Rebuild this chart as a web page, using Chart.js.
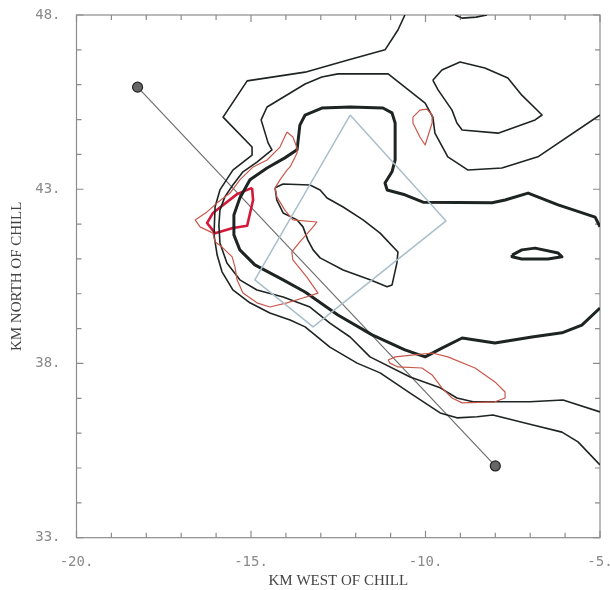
<!DOCTYPE html>
<html>
<head>
<meta charset="utf-8">
<script src="https://cdn.jsdelivr.net/npm/chart.js@4/dist/chart.umd.min.js"></script>
<style>
    body { margin: 0; background: #fff; }
</style>
</head>
<body>
<canvas id="my-chart" width="610" height="590"></canvas>
<script>
// axis labels (km)
const xLabelTicks = [-20, -15, -10, -5];
const yLabelTicks = [33, 38, 43, 48];

// contours: [km west, km north]
const thinOuter = [
    [-10.59, 48.0], [-10.79, 47.57], [-11.16, 47.0], [-12.22, 46.71], [-13.45, 46.36],
    [-15.11, 46.11], [-15.8, 45.07], [-14.97, 44.21], [-14.97, 43.98], [-15.52, 43.55],
    [-15.89, 42.98], [-16.03, 42.49], [-16.06, 41.69], [-15.97, 41.11], [-15.83, 40.63],
    [-15.52, 40.11], [-15.03, 39.74], [-14.46, 39.45], [-13.88, 39.25], [-13.45, 39.05],
    [-12.74, 38.47], [-11.96, 38.01], [-11.3, 37.73], [-10.44, 37.15], [-9.58, 36.58],
    [-9.1, 36.44], [-8.52, 36.47], [-8.07, 36.52], [-6.95, 36.24], [-6.09, 36.03],
    [-5.63, 35.75], [-5.0, 35.09],
];
const thinMiddle = [
    [-5.0, 45.13], [-6.78, 43.93], [-7.81, 43.61], [-8.78, 43.55], [-9.36, 43.93],
    [-9.73, 44.61], [-9.79, 45.07], [-10.01, 45.47], [-10.59, 45.93], [-11.07, 46.31],
    [-12.51, 46.31], [-12.97, 46.22], [-13.45, 46.02], [-14.54, 45.36], [-14.71, 44.99],
    [-14.51, 44.33], [-14.4, 44.13], [-14.83, 43.78], [-15.23, 43.5], [-15.52, 43.12],
    [-15.75, 42.78], [-15.89, 42.4], [-15.92, 41.97], [-15.89, 41.46], [-15.69, 40.88],
    [-15.32, 40.4], [-14.83, 40.11], [-14.08, 39.91], [-13.31, 39.62], [-12.74, 39.16],
    [-12.16, 38.76], [-11.59, 38.19], [-10.44, 37.61], [-9.58, 37.3], [-9.1, 37.01],
    [-8.64, 36.9], [-7.01, 36.9], [-6.06, 36.95], [-5.0, 36.61],
];
const thickMain = [
    [-5.0, 41.92], [-5.14, 42.2], [-6.2, 42.55], [-7.06, 42.89], [-7.72, 42.69],
    [-8.09, 42.61], [-10.07, 42.63], [-10.59, 42.84], [-11.1, 42.98], [-11.16, 43.18],
    [-10.96, 43.5], [-10.87, 43.84], [-10.87, 44.9], [-10.96, 45.19], [-11.22, 45.33],
    [-12.16, 45.36], [-12.97, 45.33], [-13.45, 45.13], [-13.6, 44.84], [-13.68, 44.13],
    [-14.03, 43.9], [-14.54, 43.61], [-15.03, 43.27], [-15.32, 42.75], [-15.49, 42.26],
    [-15.49, 41.69], [-15.32, 41.26], [-14.89, 40.83], [-14.08, 40.4], [-13.45, 40.05],
    [-12.51, 39.39], [-11.53, 38.82], [-10.59, 38.39], [-10.01, 38.19], [-9.53, 38.44],
    [-8.95, 38.73], [-8.01, 38.59], [-6.95, 38.76], [-6.09, 38.88], [-5.52, 39.1],
    [-5.0, 39.59],
];
const thickSmall = [
    [-7.52, 41.11], [-7.24, 41.26], [-6.86, 41.31], [-6.2, 41.17], [-6.09, 41.06],
    [-6.49, 41.0], [-7.24, 41.0], [-7.52, 41.06],
];
const innerLoop = [
    [-14.31, 43.04], [-14.08, 43.15], [-13.31, 43.12], [-13.02, 42.98], [-12.82, 42.75],
    [-12.36, 42.49], [-11.79, 42.12], [-11.3, 41.74], [-10.79, 41.2], [-10.82, 40.88],
    [-10.96, 40.25], [-11.1, 40.2], [-11.59, 40.4], [-12.36, 40.68], [-13.02, 41.03],
    [-13.22, 41.26], [-13.37, 41.54], [-13.51, 41.92], [-13.68, 42.12], [-14.08, 42.32],
    [-14.26, 42.69],
];
const northLoop = [
    [-9.79, 46.13], [-9.53, 46.42], [-9.01, 46.65], [-8.3, 46.48], [-7.64, 46.19],
    [-7.24, 45.7], [-6.66, 45.13], [-6.86, 44.99], [-7.92, 44.61], [-8.95, 44.7],
    [-9.1, 44.9], [-9.24, 45.27], [-9.64, 45.85],
];
const topEdge = [[-9.15, 48.0], [-8.95, 47.91], [-8.55, 47.94], [-8.24, 48.0]];

const redBig = [
    [-13.97, 44.64], [-13.8, 44.5], [-13.68, 44.18], [-13.68, 44.04], [-13.88, 43.64],
    [-13.97, 43.55], [-14.17, 43.27], [-14.31, 43.04], [-14.26, 42.78], [-14.03, 42.4],
    [-13.8, 42.12], [-13.11, 42.06], [-13.22, 41.92], [-13.6, 41.49], [-13.83, 41.2],
    [-13.8, 40.97], [-13.4, 40.48], [-13.08, 40.02], [-13.51, 39.88], [-13.97, 39.74],
    [-14.46, 39.62], [-14.83, 39.74], [-15.23, 40.02], [-15.4, 40.4], [-15.46, 40.77],
    [-15.54, 41.06], [-15.83, 41.34], [-16.03, 41.49], [-16.09, 41.74], [-16.46, 41.92],
    [-16.6, 42.12], [-16.26, 42.35], [-15.97, 42.61], [-15.6, 42.89], [-15.32, 43.27],
    [-14.94, 43.64], [-14.54, 43.84], [-14.17, 44.21],
];
const redCore = [
    [-14.97, 43.04], [-15.4, 42.86], [-16.09, 42.32], [-16.26, 42.03], [-16.03, 41.74],
    [-15.52, 41.89], [-15.11, 41.95], [-14.94, 42.69],
];
const redDrop = [
    [-10.36, 45.07], [-10.16, 45.27], [-9.96, 45.3], [-9.81, 45.13], [-9.81, 44.9],
    [-10.01, 44.27], [-10.16, 44.5], [-10.36, 44.9],
];
const redSouth = [
    [-11.07, 38.1], [-10.87, 38.19], [-10.39, 38.24], [-9.81, 38.3], [-9.36, 38.19],
    [-8.58, 37.87], [-8.01, 37.47], [-7.72, 37.18], [-7.72, 37.01], [-8.01, 36.9],
    [-8.95, 36.87], [-9.24, 37.01], [-9.53, 37.3], [-9.81, 37.67], [-10.1, 37.87],
    [-10.79, 37.9], [-11.02, 38.01],
];

const scanBox = [[-12.16, 45.13], [-9.41, 42.09], [-13.22, 39.05], [-14.89, 40.4]];
const crossSection = [[-18.25, 45.93], [-8.0, 35.06]];

const toPoints = (pts, closed) =>
    (closed ? pts.concat([pts[0]]) : pts).map(([x, y]) => ({ x, y }));

const contour = (pts, color, width, closed) => ({
    data: toPoints(pts, closed),
    showLine: true,
    borderColor: color,
    borderWidth: width,
    borderJoinStyle: "round",
    pointRadius: 0,
    tension: 0,
    fill: false,
});

// frame plus inward tick marks on all four sides
const frameTicks = {
    id: "frameTicks",
    beforeDatasetsDraw(chart) {
        const { ctx, chartArea: a, scales } = chart;
        ctx.save();
        ctx.strokeStyle = "#8c8c8c";
        ctx.lineWidth = 1.2;
        ctx.strokeRect(a.left, a.top, a.right - a.left, a.bottom - a.top);
        ctx.beginPath();
        scales.x.ticks.forEach((t) => {
            const p = scales.x.getPixelForValue(t.value);
            const len = t.value % 5 === 0 ? 7 : 5;
            ctx.moveTo(p, a.bottom);
            ctx.lineTo(p, a.bottom - len);
            ctx.moveTo(p, a.top);
            ctx.lineTo(p, a.top + len);
        });
        scales.y.ticks.forEach((t) => {
            const p = scales.y.getPixelForValue(t.value);
            const len = (t.value - 33) % 5 === 0 ? 7 : 5;
            ctx.moveTo(a.left, p);
            ctx.lineTo(a.left + len, p);
            ctx.moveTo(a.right, p);
            ctx.lineTo(a.right - len, p);
        });
        ctx.stroke();
        ctx.restore();
    },
};

const tickFont = { family: "DejaVu Sans Mono", size: 14 };
const titleFont = { family: "Liberation Serif", size: 15 };

window.onload = function () {
    const ctx = document.getElementById("my-chart").getContext("2d");
    const black = "#1e2421";
    const chart = new Chart(ctx, {
        type: "scatter",
        data: {
            datasets: [
                contour(scanBox, "#a9bfcb", 1.5, true),
                contour(redBig, "#c9584c", 1.2, true),
                contour(redDrop, "#c9584c", 1.2, true),
                contour(redSouth, "#c9584c", 1.2, true),
                contour(thinOuter, black, 1.6, false),
                contour(thinMiddle, black, 1.6, false),
                contour(innerLoop, black, 1.6, true),
                contour(northLoop, black, 1.6, true),
                contour(topEdge, black, 1.6, false),
                contour(thickMain, black, 3, false),
                contour(thickSmall, black, 3, true),
                contour(redCore, "#d2193a", 2.6, true),
                {
                    data: toPoints(crossSection, false),
                    showLine: true,
                    borderColor: "#6e6e6e",
                    borderWidth: 1.2,
                    pointRadius: 5,
                    pointBackgroundColor: "#666",
                    pointBorderColor: "#222",
                    pointBorderWidth: 1.2,
                },
            ],
        },
        options: {
            responsive: false,
            animation: false,
            layout: { padding: { top: 15, right: 10, left: 0, bottom: 0 } },
            plugins: { legend: { display: false }, tooltip: { enabled: false } },
            scales: {
                x: {
                    type: "linear",
                    min: -20,
                    max: -5,
                    grid: { display: false, drawTicks: false },
                    border: { display: false },
                    ticks: {
                        stepSize: 1,
                        padding: 16,
                        color: "#8a8a8a",
                        font: tickFont,
                        maxRotation: 0,
                        autoSkip: false,
                        callback: (v) => (xLabelTicks.includes(v) ? v + "." : ""),
                    },
                    title: {
                        display: true,
                        text: "KM WEST OF CHILL",
                        color: "#444",
                        font: titleFont,
                        padding: { top: 0, bottom: 0 },
                    },
                    afterFit: (scale) => {
                        scale.height = 52.3;
                        scale.paddingLeft = scale.paddingRight = 0;
                    },
                },
                y: {
                    type: "linear",
                    min: 33,
                    max: 48,
                    grid: { display: false, drawTicks: false },
                    border: { display: false },
                    ticks: {
                        stepSize: 1,
                        padding: 16,
                        color: "#8a8a8a",
                        font: tickFont,
                        autoSkip: false,
                        callback: (v) => (yLabelTicks.includes(v) ? v + "." : ""),
                    },
                    title: {
                        display: true,
                        text: "KM NORTH OF CHILL",
                        color: "#444",
                        font: titleFont,
                        padding: { top: 8, bottom: 0 },
                    },
                    afterFit: (scale) => {
                        scale.width = 76.5;
                        scale.paddingTop = scale.paddingBottom = 0;
                    },
                },
            },
        },
        plugins: [frameTicks],
    });
};
</script>
</body>
</html>
